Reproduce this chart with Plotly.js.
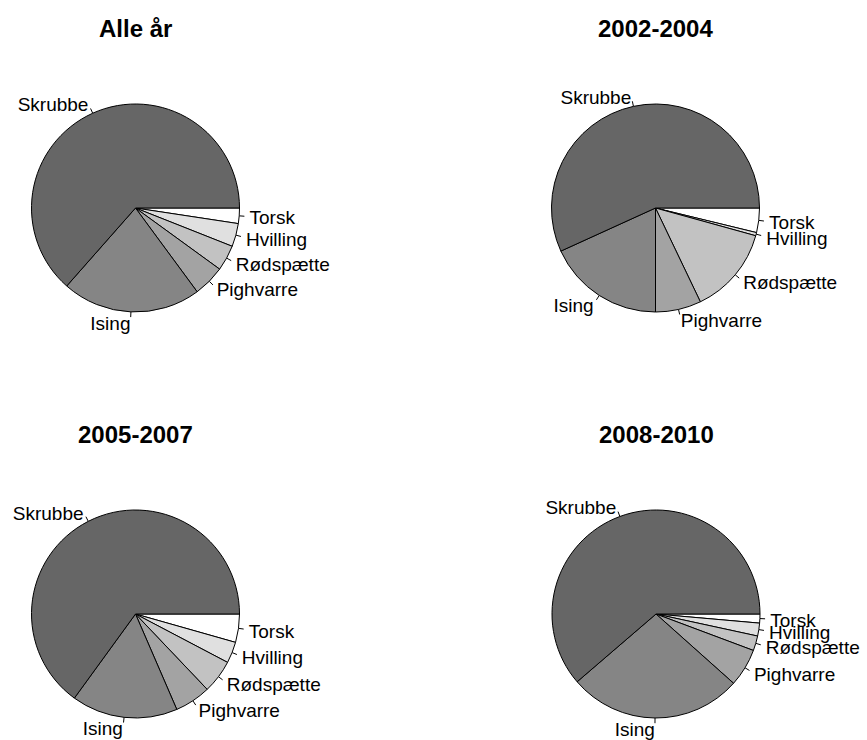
<!DOCTYPE html>
<html><head><meta charset="utf-8">
<script src="https://cdn.plot.ly/plotly-3.0.1.min.js"></script>
<style>html,body{margin:0;padding:0;background:#fff}</style>
</head><body>
<div id="chart" style="width:867px;height:740px"></div>
<script>
// ---- data (percent of catch) ----
const species = ["Skrubbe", "Ising", "Pighvarre", "Rødspætte", "Hvilling", "Torsk"];
const panelTitles = ["Alle år", "2002-2004", "2005-2007", "2008-2010"];
const shareAll  = [63.5, 21.6, 4.9, 4.0, 3.6, 2.4];
const share0204 = [56.8, 18.2, 7.1, 13.6, 0.5, 3.8];
const share0507 = [65.0, 16.5, 5.6, 5.2, 3.3, 4.4];
const share0810 = [61.3, 27.1, 5.9, 2.3, 2.0, 1.4];
const sliceColors = ["#666666", "#858585", "#a3a3a3", "#c2c2c2", "#e0e0e0", "#ffffff"];

// ---- layout ----
const W = 867, H = 740, R = 104, RMAX = 1.15, TEXT_DROP = 3;
const centers = [[135.5, 208], [655.5, 208], [135.5, 614], [656, 614]];
const panels = [shareAll, share0204, share0507, share0810];
const font = "Liberation Sans, Arial, sans-serif";

const traces = [];
const layout = {
  width: W, height: H,
  margin: {l: 0, r: 0, t: 0, b: 0},
  paper_bgcolor: "#fff", plot_bgcolor: "#fff",
  showlegend: false,
  annotations: []
};

function polarDomain(cx, cy, pr) {
  return {x: [(cx - pr) / W, (cx + pr) / W], y: [1 - (cy + pr) / H, 1 - (cy - pr) / H]};
}

panels.forEach((vals, i) => {
  const [cx, cy] = centers[i];
  const dom = polarDomain(cx, cy, R);
  const pr = R * RMAX;
  const tickPolar = i === 0 ? "polar" : "polar" + (i + 1);
  const textPolar = "polar" + (i + 5);
  // R draws slices counter-clockwise from 3 o'clock; Plotly clockwise with reversed order is identical
  traces.push({
    type: "pie", labels: species.slice().reverse(), values: vals.slice().reverse(), sort: false,
    direction: "clockwise", rotation: 90,
    marker: {colors: sliceColors.slice().reverse(), line: {color: "#000", width: 1}},
    textinfo: "none", domain: dom, hoverinfo: "label+percent", showlegend: false
  });
  // mid angles of slices (deg, ccw from 3 o'clock) derived from data
  const total = vals.reduce((a, b) => a + b, 0);
  let cum = 0;
  const mids = vals.map(v => { const m = (cum + v / 2) / total * 360; cum += v; return m; });
  const tr = [], tt = [];
  mids.forEach(m => { tr.push(1, 1.05, null); tt.push(m, m, null); });
  traces.push({
    type: "scatterpolar", subplot: tickPolar, mode: "lines", r: tr, theta: tt,
    line: {color: "#000", width: 1}, cliponaxis: false, hoverinfo: "skip", connectgaps: false
  });
  traces.push({
    type: "scatterpolar", subplot: textPolar, mode: "text",
    r: mids.map(() => 1.1), theta: mids, text: species,
    textposition: mids.map(m => Math.cos(m * Math.PI / 180) >= 0 ? "middle right" : "middle left"),
    textfont: {family: font, size: 19, color: "#000"},
    cliponaxis: false, hoverinfo: "skip"
  });
  const pol = (d) => ({
    domain: d, bgcolor: "rgba(0,0,0,0)",
    radialaxis: {visible: false, range: [0, RMAX]},
    angularaxis: {visible: false, rotation: 0, direction: "counterclockwise"}
  });
  layout[tickPolar] = pol(polarDomain(cx, cy, pr));
  layout[textPolar] = pol(polarDomain(cx, cy + TEXT_DROP, pr));
  layout.annotations.push({
    text: "<b>" + panelTitles[i] + "</b>", xref: "paper", yref: "paper",
    x: cx / W, y: 1 - (cy - 180) / H, xanchor: "center", yanchor: "middle",
    showarrow: false, font: {family: font, size: 24, color: "#000"}
  });
});

Plotly.newPlot("chart", traces, layout, {displayModeBar: false, staticPlot: true});
</script>
</body></html>
